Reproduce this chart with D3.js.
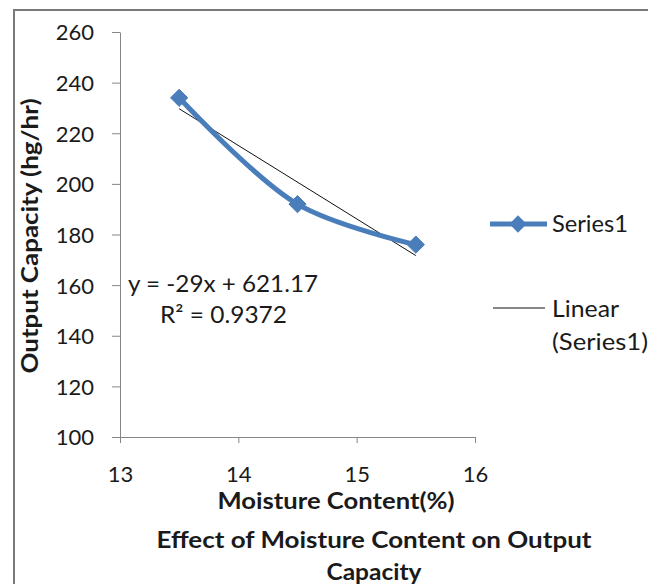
<!DOCTYPE html>
<html>
<head>
<meta charset="utf-8">
<script src="https://cdn.jsdelivr.net/npm/d3@7"></script>
<style>
  body { margin: 0; background: #fff; }
  svg { display: block; font-family: Lato, "Open Sans", sans-serif; }
</style>
</head>
<body>
<div id="chart"></div>
<script>
var moisture = [13.5, 14.5, 15.5];
var capacity = [234, 192, 176];
var xTicks = [13, 14, 15, 16];
var yTicks = [100, 120, 140, 160, 180, 200, 220, 240, 260];
var trendSlope = -29;
var trendIntercept = 621.17;
var trendR2 = 0.9372;

var width = 648, height = 584;
var blue = '#4a7ebb', axisColor = '#868686', textColor = '#1a1a1a';

var svg = d3.select('#chart').append('svg')
  .attr('width', width)
  .attr('height', height);

// chart frame (runs off the right and bottom edges)
svg.append('rect')
  .attr('x', 14).attr('y', 10)
  .attr('width', 700).attr('height', 620)
  .attr('fill', '#fff')
  .attr('stroke', '#7a7a7a')
  .attr('stroke-width', 2);

var x = d3.scaleLinear().domain([13, 16]).range([120, 475]);
var y = d3.scaleLinear().domain([100, 260]).range([437, 32]);

var points = moisture.map((m, i) => ({ x: m, y: capacity[i] }));

// axes
var yAxis = svg.append('g')
  .attr('transform', 'translate(' + x.range()[0] + ',0)')
  .call(d3.axisLeft(y).tickValues(yTicks).tickSize(8).tickPadding(18).tickSizeOuter(0));
var xAxis = svg.append('g')
  .attr('transform', 'translate(0,' + y.range()[0] + ')')
  .call(d3.axisBottom(x).tickValues(xTicks).tickFormat(d3.format('d'))
    .tickSize(6).tickPadding(23).tickSizeOuter(0));

[xAxis, yAxis].forEach(a => {
  a.select('.domain').attr('stroke', axisColor);
  a.selectAll('.tick line').attr('stroke', axisColor);
  a.selectAll('.tick text')
    .attr('fill', textColor)
    .style('font-size', '22px')
    .style('font-family', 'Lato, sans-serif');
});
yAxis.selectAll('.tick text').attr('dy', '0.36em');

// trendline
var trendX = d3.extent(moisture);
svg.append('line')
  .attr('x1', x(trendX[0])).attr('y1', y(trendSlope * trendX[0] + trendIntercept))
  .attr('x2', x(trendX[1])).attr('y2', y(trendSlope * trendX[1] + trendIntercept))
  .attr('stroke', '#111')
  .attr('stroke-width', 1);

// smoothed series line
svg.append('path')
  .datum(points)
  .attr('d', d3.line().x(d => x(d.x)).y(d => y(d.y)).curve(d3.curveCatmullRom.alpha(0.5)))
  .attr('fill', 'none')
  .attr('stroke', blue)
  .attr('stroke-width', 5)
  .attr('stroke-linecap', 'round');

var diamond = d3.symbol().type(d3.symbolDiamond2).size(190);
svg.selectAll('.marker')
  .data(points)
  .enter()
  .append('path')
  .attr('class', 'marker')
  .attr('d', diamond)
  .attr('transform', d => 'translate(' + x(d.x) + ',' + y(d.y) + ')')
  .attr('fill', blue)
  .attr('stroke', blue)
  .attr('stroke-width', 1);

function label(px, py, txt, size, bold, len, anchor) {
  var t = svg.append('text')
    .attr('x', px).attr('y', py)
    .attr('fill', textColor)
    .style('font-size', size + 'px')
    .text(txt);
  if (bold) t.style('font-weight', 'bold');
  if (anchor) t.attr('text-anchor', anchor);
  if (len) t.attr('textLength', len).attr('lengthAdjust', 'spacingAndGlyphs');
  return t;
}

// trend equation
label(128, 292, 'y = ' + trendSlope + 'x + ' + trendIntercept, 24, false, 190);
label(160, 323, 'R² = ' + trendR2, 24, false, 127);

// axis titles
label(0, 0, 'Output Capacity (hg/hr)', 23, true, 275, 'middle')
  .attr('transform', 'translate(38,236) rotate(-90)');
label(336, 509, 'Moisture Content(%)', 23, true, 237, 'middle');

// chart title
label(374, 548, 'Effect of Moisture Content on Output', 23, true, 435, 'middle');
label(374, 580, 'Capacity', 23, true, 95, 'middle');

// legend
var legend = svg.append('g');
legend.append('line')
  .attr('x1', 490).attr('x2', 547).attr('y1', 224).attr('y2', 224)
  .attr('stroke', blue).attr('stroke-width', 5);
legend.append('path')
  .attr('d', diamond)
  .attr('transform', 'translate(518,224)')
  .attr('fill', blue);
label(552, 232, 'Series1', 24, false, 76);
legend.append('line')
  .attr('x1', 493).attr('x2', 545).attr('y1', 308).attr('y2', 308)
  .attr('stroke', '#111').attr('stroke-width', 1);
label(552, 317, 'Linear', 24, false, 67);
label(552, 350, '(Series1)', 24, false, 96);
</script>
</body>
</html>
